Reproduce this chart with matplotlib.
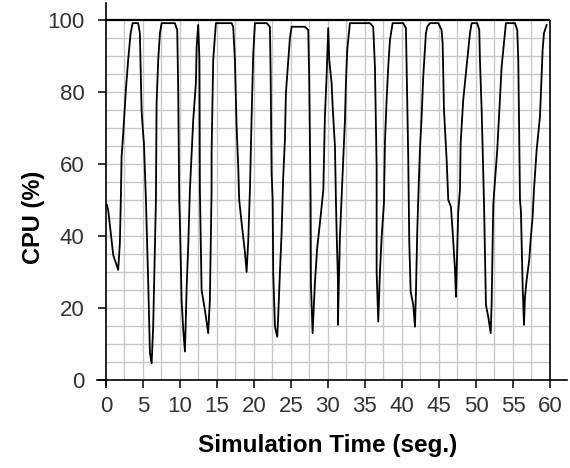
#CPU usage over the simulation run.

import matplotlib
matplotlib.use("Agg")
import matplotlib.pyplot as plt


#simulation time (seconds) and cpu load (%)
time_s = [
    0.14, 0.31, 0.99, 1.66, 1.89, 2.03, 2.12, 2.34, 2.70, 3.01, 3.34, 3.61,
    4.36, 4.59, 4.69, 4.82, 4.96, 5.14, 5.41, 5.72, 5.95, 6.18,
    6.39, 6.62, 6.76, 6.85, 7.07, 7.30, 7.53,
    9.32, 9.64, 9.77, 9.91, 10.00, 10.23, 10.45, 10.68,
    10.91, 11.12, 11.35, 11.80, 12.16, 12.26, 12.47,
    12.64, 12.70, 12.93, 13.38, 13.82,
    14.05, 14.28, 14.28, 14.50, 14.86,
    16.99, 17.20, 17.43, 17.66, 17.88, 18.01, 18.34, 18.78, 19.01,
    19.23, 19.46, 19.69, 19.91, 20.14,
    21.72, 22.16, 22.26, 22.39, 22.53, 22.61, 22.84, 23.15,
    23.28, 23.51, 23.74, 23.96, 24.19, 24.32, 24.64, 24.86, 25.09,
    26.89, 27.34, 27.47, 27.66, 27.70, 27.93,
    28.24, 28.55, 28.92, 29.38, 29.59, 29.82, 30.04,
    30.18, 30.50, 30.64, 30.95, 31.08, 31.18, 31.35, 31.35,
    31.62, 31.85, 32.07, 32.30, 32.43, 32.61, 32.97,
    35.68, 36.12, 36.35, 36.58, 36.58, 36.80,
    37.03, 37.26, 37.57, 37.70, 37.93, 38.15, 38.38, 38.74,
    40.18, 40.54, 40.64, 40.85, 40.99, 41.18, 41.53, 41.76,
    41.89, 42.07, 42.20, 42.43, 42.66, 42.88, 43.24, 43.42, 43.78,
    44.91, 45.36, 45.50, 45.68, 46.04, 46.26, 46.62, 46.85, 47.16, 47.30,
    47.61, 47.84, 47.93, 48.28, 48.51, 48.96, 49.19, 49.42,
    50.18, 50.45, 50.54, 50.77, 51.08, 51.35, 51.66, 51.99,
    52.12, 52.34, 52.43, 52.88, 53.24, 53.47, 53.92, 54.05,
    55.27, 55.58, 55.72, 55.95, 56.08, 56.31, 56.49,
    56.62, 56.85, 57.20, 57.39, 57.66, 57.84, 58.20, 58.65, 59.01, 59.19, 59.55,
]
cpu_pct = [
    48.6, 47.2, 34.7, 30.6, 38.1, 51.4, 62.0, 68.5, 80.6, 88.9, 96.3, 99.1,
    99.1, 96.3, 87.0, 75.0, 70.4, 65.7, 50.0, 26.9, 7.5, 4.6,
    14.8, 36.1, 50.0, 76.9, 88.9, 96.3, 99.1,
    99.1, 97.2, 80.6, 50.0, 44.0, 22.2, 13.9, 7.9,
    25.6, 37.0, 52.8, 72.2, 82.5, 92.6, 98.6,
    88.9, 52.8, 25.0, 19.4, 13.0,
    22.2, 52.8, 63.0, 88.9, 99.1,
    99.1, 98.1, 88.9, 70.4, 59.3, 50.0, 43.6, 35.6, 30.0,
    38.4, 52.8, 73.1, 90.7, 99.1,
    99.1, 98.1, 85.2, 57.4, 50.0, 29.7, 14.8, 12.0,
    17.6, 29.7, 40.8, 56.5, 66.7, 79.6, 88.9, 94.9, 98.1,
    98.1, 97.2, 84.3, 50.0, 26.9, 13.0,
    26.9, 36.7, 43.6, 52.8, 73.1, 84.3, 97.7,
    88.9, 82.4, 75.9, 64.8, 50.0, 40.8, 27.8, 15.3,
    39.8, 50.9, 61.1, 72.2, 82.4, 91.7, 99.1,
    99.1, 98.1, 87.0, 59.3, 30.1, 16.2,
    30.1, 39.8, 49.1, 65.7, 77.8, 87.0, 94.4, 99.1,
    99.1, 97.7, 86.1, 62.0, 38.4, 24.5, 20.8, 14.8,
    24.1, 41.2, 50.0, 63.9, 73.1, 84.3, 96.3, 98.1, 99.1,
    99.1, 97.2, 93.5, 75.0, 61.1, 50.0, 48.1, 41.2, 31.0, 23.1,
    46.8, 52.8, 65.7, 77.8, 82.4, 91.7, 96.3, 99.1,
    99.1, 97.2, 88.9, 75.0, 50.0, 20.8, 17.6, 13.0,
    21.3, 48.6, 51.4, 63.9, 77.8, 87.0, 96.3, 99.1,
    99.1, 97.2, 88.9, 50.0, 46.8, 25.9, 15.3,
    22.8, 27.8, 33.3, 38.9, 45.4, 52.8, 63.9, 73.1, 91.7, 96.3, 98.6,
]

x_ticks = [0, 5, 10, 15, 20, 25, 30, 35, 40, 45, 50, 55, 60]
y_ticks = [0, 20, 40, 60, 80, 100]

X_MAX = 60
Y_MAX = 100


def create_plot():
    '''
    draws the cpu curve on a boxed grid, Excel style
    '''
    plt.rcParams['font.family'] = ['Liberation Sans', 'DejaVu Sans']

    fig = plt.figure(figsize=(5.7, 4.68), dpi=100)
    fig.set_facecolor('white')
    ax = fig.add_axes([0.1702, 0.1774, 0.8245, 0.8162])

    #grid only inside the box
    grid_x = [i * 2.5 for i in range(1, 24)]
    grid_y = [i * 5 for i in range(1, 20)]
    ax.vlines(grid_x, 0, Y_MAX, color="#c8c8c8", linewidth=1.0, zorder=1)
    ax.hlines(grid_y, 0, X_MAX, color="#c8c8c8", linewidth=1.0, zorder=1)

    #closing frame at the top and right
    ax.hlines(Y_MAX, 0, X_MAX, color="black", linewidth=1.6, zorder=3)
    ax.vlines(X_MAX, 0, Y_MAX, color="black", linewidth=1.2, zorder=3)

    ax.plot(time_s, cpu_pct, color="black", linewidth=1.3, zorder=4)

    ax.set_xlim(-1.2, 62.3)
    ax.set_ylim(-1.4, 104.7)
    ax.spines['top'].set_visible(False)
    ax.spines['right'].set_visible(False)
    ax.spines['left'].set_position(('data', 0))
    ax.spines['bottom'].set_position(('data', 0))
    ax.spines['left'].set_linewidth(1.2)
    ax.spines['bottom'].set_linewidth(1.2)

    ax.set_xticks(x_ticks)
    ax.set_yticks(y_ticks)
    ax.tick_params(axis='x', direction='out', length=5.5, width=1.1,
                   labelsize=16, labelcolor="#333333", pad=6)
    ax.tick_params(axis='y', direction='out', length=5.5, width=1.1,
                   labelsize=16, labelcolor="#333333", pad=10)

    fig.text(0.575, 0.049, "Simulation Time (seg.)", ha="center", va="center",
             fontsize=17.5, fontweight="bold")
    fig.text(0.058, 0.536, "CPU (%)", ha="center", va="center", rotation=90,
             fontsize=17, fontweight="bold")

    fig.savefig("out.png", dpi=100)


def main():
    create_plot()


main()
